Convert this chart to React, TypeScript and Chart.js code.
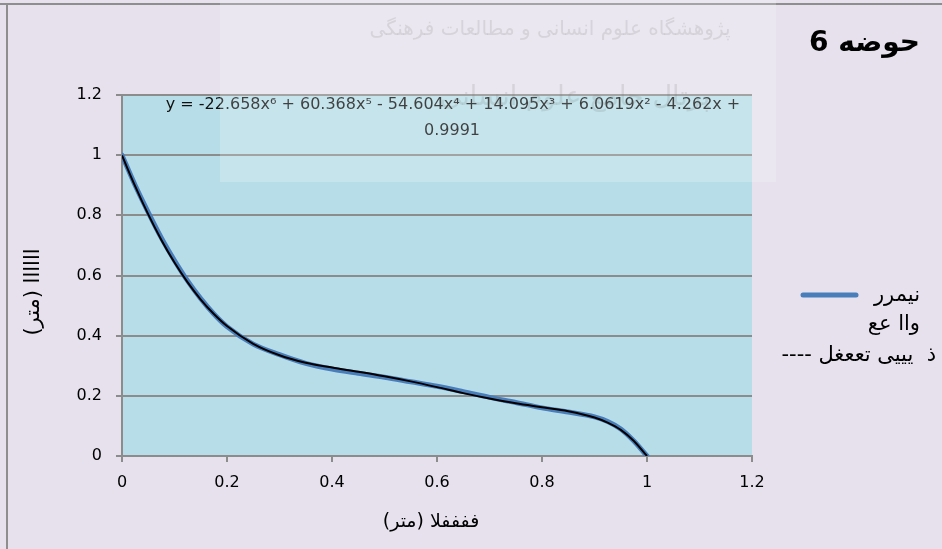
import React, { useEffect, useRef } from 'react';
import { Chart, registerables } from 'chart.js';

Chart.register(...registerables);

// ---- data ----
const distances = [0, 0.025, 0.05, 0.075, 0.1, 0.125, 0.15, 0.175, 0.2, 0.25, 0.3, 0.35, 0.4, 0.45, 0.5, 0.55, 0.6, 0.65, 0.7, 0.75, 0.8, 0.85, 0.9, 0.925, 0.95, 0.975, 1.0];
const measuredProfile = [1.0, 0.9, 0.81, 0.725, 0.65, 0.582, 0.523, 0.472, 0.43, 0.372, 0.337, 0.308, 0.289, 0.275, 0.262, 0.247, 0.232, 0.214, 0.195, 0.178, 0.16, 0.146, 0.13, 0.115, 0.09, 0.05, 0.0];
const trendProfile = [0.999, 0.897, 0.803, 0.718, 0.643, 0.577, 0.52, 0.472, 0.432, 0.373, 0.335, 0.31, 0.294, 0.28, 0.265, 0.248, 0.229, 0.209, 0.191, 0.175, 0.162, 0.149, 0.128, 0.111, 0.087, 0.05, 0.0];

const xTicks = [0, 0.2, 0.4, 0.6, 0.8, 1, 1.2];
const xTickLabels = ['0', '0.2', '0.4', '0.6', '0.8', '1', '1.2'];
const yTicks = [0, 0.2, 0.4, 0.6, 0.8, 1, 1.2];
const yTickLabels = ['0', '0.2', '0.4', '0.6', '0.8', '1', '1.2'];

const chartTitle = 'حوضه 6';
const xAxisTitle = 'ففففلا (متر)';
const yAxisTitle = 'اااااا (متر)';
const legendLines = ['نیمرر', 'واا عع', 'ذ  یییی تععغل ----'];
const equationLine1 = 'y = -22.658x⁶ + 60.368x⁵ - 54.604x⁴ + 14.095x³ + 6.0619x² - 4.262x +';
const equationLine2 = '0.9991';
const watermarkLine1 = 'پژوهشگاه علوم انسانی و مطالعات فرهنگی';
const watermarkLine2 = 'پرتال جامع علوم انسانی';

const FONT = '"DejaVu Sans", sans-serif';
const GRID = '#8c8c8c';

const decorPlugin = {
  id: 'decor',
  beforeDraw(chart: any) {
    const { ctx, chartArea, width, height } = chart;
    ctx.save();
    ctx.fillStyle = '#e6e1ed';
    ctx.fillRect(0, 0, width, height);
    ctx.fillStyle = '#b7dee8';
    ctx.fillRect(chartArea.left, chartArea.top, chartArea.right - chartArea.left, chartArea.bottom - chartArea.top);
    ctx.strokeStyle = '#8e8e8e';
    ctx.lineWidth = 2;
    ctx.beginPath();
    ctx.moveTo(0, 4);
    ctx.lineTo(width, 4);
    ctx.moveTo(7, 4);
    ctx.lineTo(7, height);
    ctx.stroke();
    ctx.restore();
  },
  afterDraw(chart: any) {
    const { ctx } = chart;
    ctx.save();
    // equation
    ctx.fillStyle = '#111';
    ctx.font = `16px ${FONT}`;
    ctx.textAlign = 'center';
    ctx.textBaseline = 'middle';
    ctx.direction = 'ltr';
    ctx.fillText(equationLine1, 453, 105);
    ctx.fillText(equationLine2, 452, 131);

    // title
    ctx.direction = 'rtl';
    ctx.textAlign = 'right';
    ctx.fillStyle = '#000';
    ctx.font = `bold 28px ${FONT}`;
    ctx.fillText(chartTitle, 920, 44);

    // legend
    ctx.strokeStyle = '#4a7ebb';
    ctx.lineWidth = 5;
    ctx.lineCap = 'round';
    ctx.beginPath();
    ctx.moveTo(803, 295);
    ctx.lineTo(856, 295);
    ctx.stroke();
    ctx.font = `21px ${FONT}`;
    ctx.fillStyle = '#000';
    ctx.fillText(legendLines[0], 920, 296);
    ctx.fillText(legendLines[1], 920, 325);
    ctx.fillText(legendLines[2], 936, 356);

    // x axis title
    ctx.textAlign = 'center';
    ctx.font = `19px ${FONT}`;
    ctx.fillText(xAxisTitle, 431, 522);

    // y axis title
    ctx.save();
    ctx.translate(34, 292);
    ctx.rotate(-Math.PI / 2);
    ctx.textAlign = 'center';
    ctx.font = `21px ${FONT}`;
    ctx.fillText(yAxisTitle, 0, 0);
    ctx.restore();

    // watermark
    ctx.fillStyle = 'rgba(255,255,255,0.2)';
    ctx.fillRect(220, 0, 556, 182);
    ctx.fillStyle = 'rgba(110,110,110,0.17)';
    ctx.textAlign = 'center';
    ctx.font = `20px ${FONT}`;
    ctx.fillText(watermarkLine1, 550, 30);
    ctx.font = `27px ${FONT}`;
    ctx.fillText(watermarkLine2, 575, 98);
    ctx.restore();
  },
};

export default function App() {
  const canvasRef = useRef<HTMLCanvasElement | null>(null);

  useEffect(() => {
    document.body.style.margin = '0';
    const canvas = canvasRef.current;
    if (!canvas) return;
    const chart = new Chart(canvas, {
      type: 'line',
      data: {
        datasets: [
          {
            label: 'trend',
            data: distances.map((x, i) => ({ x, y: trendProfile[i] })),
            borderColor: '#000000',
            borderWidth: 2,
            pointRadius: 0,
            cubicInterpolationMode: 'monotone',
            order: 1,
          },
          {
            label: 'measured',
            data: distances.map((x, i) => ({ x, y: measuredProfile[i] })),
            borderColor: '#4a7ebb',
            borderWidth: 5,
            borderCapStyle: 'round',
            borderJoinStyle: 'round',
            pointRadius: 0,
            cubicInterpolationMode: 'monotone',
            order: 2,
          },
        ],
      },
      options: {
        responsive: false,
        animation: false,
        devicePixelRatio: 1,
        layout: { padding: { left: 0, top: 95, right: 190, bottom: 0 } },
        plugins: {
          legend: { display: false },
          tooltip: { enabled: false },
          title: { display: false },
        },
        scales: {
          x: {
            type: 'linear',
            min: 0,
            max: 1.2,
            afterBuildTicks: (scale: any) => {
              scale.ticks = xTicks.map((v) => ({ value: v }));
            },
            afterFit: (scale: any) => {
              scale.height = 93;
            },
            ticks: {
              color: '#000',
              font: { family: 'DejaVu Sans', size: 16 },
              padding: 11,
              maxRotation: 0,
              callback: (v: any) => {
                const i = xTicks.findIndex((t) => Math.abs(t - v) < 1e-9);
                return i >= 0 ? xTickLabels[i] : '';
              },
            },
            grid: {
              drawOnChartArea: false,
              drawTicks: true,
              tickLength: 6,
              color: GRID,
              lineWidth: 2,
            },
            border: { display: true, color: GRID, width: 2 },
          },
          y: {
            type: 'linear',
            min: 0,
            max: 1.2,
            afterBuildTicks: (scale: any) => {
              scale.ticks = yTicks.map((v) => ({ value: v }));
            },
            afterFit: (scale: any) => {
              scale.width = 122;
            },
            ticks: {
              color: '#000',
              font: { family: 'DejaVu Sans', size: 16 },
              padding: 14,
              callback: (v: any) => {
                const i = yTicks.findIndex((t) => Math.abs(t - v) < 1e-9);
                return i >= 0 ? yTickLabels[i] : '';
              },
            },
            grid: {
              drawOnChartArea: true,
              drawTicks: true,
              tickLength: 6,
              color: GRID,
              lineWidth: 2,
            },
            border: { display: true, color: GRID, width: 2 },
          },
        },
      },
      plugins: [decorPlugin],
    } as any);
    return () => chart.destroy();
  }, []);

  return (
    <div style={{ position: 'absolute', left: 0, top: 0, width: 942, height: 549 }}>
      <canvas ref={canvasRef} width={942} height={549} style={{ display: 'block' }} />
    </div>
  );
}
